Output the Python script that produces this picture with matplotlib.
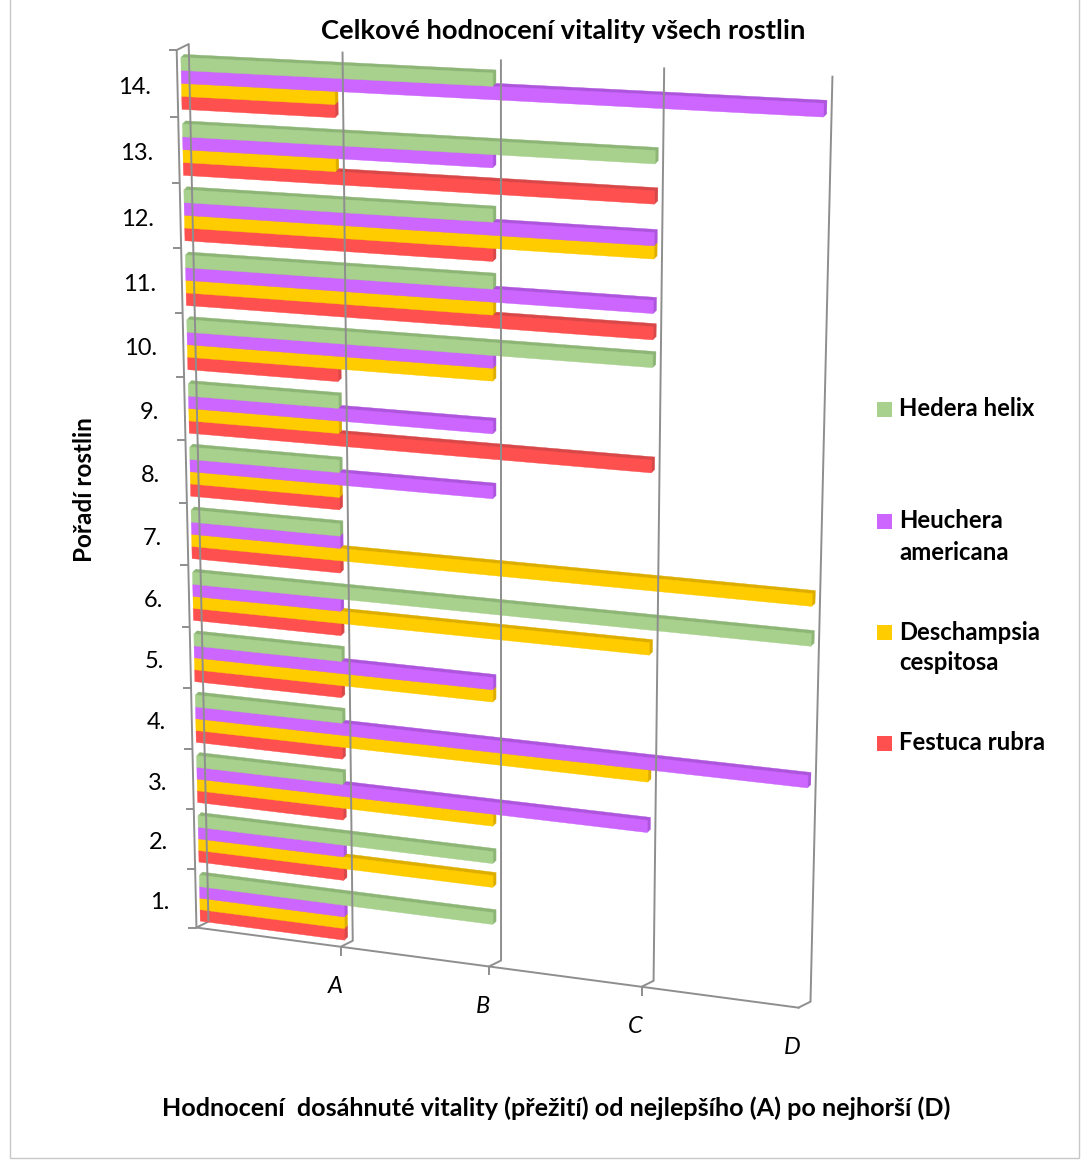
import numpy as np
import matplotlib
matplotlib.use("Agg")
import matplotlib.pyplot as plt
import matplotlib.transforms as mtransforms
from matplotlib.patches import Rectangle, ConnectionPatch

# ---------------- data ----------------
rows = [f"{i}." for i in range(1, 15)]
positions = list(range(1, 15))
series_names = ["Hedera helix", "Heuchera americana", "Deschampsia cespitosa", "Festuca rubra"]
legend_labels = ["Hedera helix", "Heuchera\namericana", "Deschampsia\ncespitosa", "Festuca rubra"]
value_labels = ["A", "B", "C", "D"]
hedera = [2, 2, 1, 1, 1, 4, 1, 1, 1, 3, 2, 2, 3, 2]
heuchera = [1, 1, 3, 4, 2, 1, 1, 2, 2, 2, 3, 3, 2, 4]
deschampsia = [1, 2, 2, 3, 2, 3, 4, 1, 1, 2, 2, 3, 1, 1]
festuca = [1, 1, 1, 1, 1, 1, 1, 1, 3, 1, 3, 2, 3, 1]
series_values = [hedera, heuchera, deschampsia, festuca]

title = "Celkové hodnocení vitality všech rostlin"
ylabel = "Pořadí rostlin"
xlabel = "Hodnocení  dosáhnuté vitality (přežití) od nejlepšího (A) po nejhorší (D)"

# ---------------- style ----------------
front_colors = ["#A9D18E", "#CC66FF", "#FFCC00", "#FF5050"]
side_colors = ["#8DB576", "#AE55DD", "#DDAE00", "#D84848"]
grid_color = "#8E8E8E"
FONT = ["Lato", "DejaVu Sans"]
plt.rcParams["font.family"] = FONT

GROUP = 0.78
BAR_H = GROUP / 4

# projection calibration (plane (value, slot) -> image pixel), perspective view
calib_src = [(0, 14.39), (0, 6.39), (0, 0.61), (4, 14.0), (4, 4.0), (3, 3.0), (2, 1.195), (1, 0.61)]
calib_dst = [(181, 57), (193, 573), (200, 922), (823, 117), (808, 788), (648, 833), (493, 925), (344, 938)]


def solve_homography(src, dst):
    A = []
    for (x, y), (X, Y) in zip(src, dst):
        X, Y = X / 1000.0, Y / 1000.0
        A.append([x, y, 1, 0, 0, 0, -X * x, -X * y, -X])
        A.append([0, 0, 0, x, y, 1, -Y * x, -Y * y, -Y])
    _, _, vt = np.linalg.svd(np.array(A, float))
    h = vt[-1].reshape(3, 3)
    h = np.diag([1000.0, 1000.0, 1.0]) @ h
    return h / h[2, 2]


class Projection(mtransforms.Transform):
    input_dims = 2
    output_dims = 2
    is_separable = False
    has_inverse = False

    def __init__(self, m):
        super().__init__()
        self.m = m

    def transform_non_affine(self, values):
        v = np.asarray(values, float).reshape(-1, 2)
        p = np.column_stack([v, np.ones(len(v))]) @ self.m.T
        return p[:, :2] / p[:, 2:3]


W, H = 1089, 1161
fig = plt.figure(figsize=(W / 100, H / 100), dpi=100)
ax = fig.add_axes([0, 0, 1, 1])
ax.set_autoscale_on(False)
ax.set_xlim(0, W)
ax.set_ylim(H, 0)
ax.axis("off")

proj = Projection(solve_homography(calib_src, calib_dst))


def plane(dx=0.0, dy=0.0):
    """plane -> display, with a pixel offset (dy positive = down in the image)."""
    return proj + ax.transData + mtransforms.Affine2D().translate(dx, -dy)


BACK = (8, -6)
FRONT = (-4, 0)
w0, w1 = 0.5, 14.5
lw = 1.4

# back wall gridlines
for u in range(0, 5):
    ax.plot([u, u], [w0, w1], color=grid_color, lw=lw, transform=plane(*BACK),
            solid_capstyle="butt")
    con = ConnectionPatch((u, w0), (u, w0), coordsA=plane(*BACK), coordsB=plane(*FRONT),
                          arrowstyle="-", shrinkA=0, shrinkB=0, color=grid_color, lw=lw)
    ax.add_artist(con)
# top bracket
ax.add_artist(ConnectionPatch((0, w1), (0, w1), coordsA=plane(*BACK), coordsB=plane(*FRONT),
                              arrowstyle="-", shrinkA=0, shrinkB=0, color=grid_color, lw=lw))

# front category axis and floor edge
ax.plot([0, 0], [w0, w1], color=grid_color, lw=lw, transform=plane(*FRONT))
ax.plot([0, 4], [w0, w0], color=grid_color, lw=lw, transform=plane(*FRONT))
for k in range(0, 15):
    ax.plot([0], [k + 0.5], marker=0, markersize=5.5, mew=lw, color=grid_color,
            transform=plane(*FRONT))
for u in range(1, 4):
    ax.plot([u], [w0], marker=3, markersize=6.5, mew=lw, color=grid_color,
            transform=plane(*FRONT))

# bars (3D look: darker extrusion then front face), bottom series drawn first
depth_steps = [3.0, 2.25, 1.5, 0.75]
for s in range(3, -1, -1):
    centers = [p + GROUP / 2 - BAR_H * (s + 0.5) for p in positions]
    for d in depth_steps:
        bars = ax.barh(centers, series_values[s], height=BAR_H, left=0,
                       color=side_colors[s], edgecolor=side_colors[s], linewidth=0.3)
        for b in bars:
            b.set_transform(plane(d, -d))
    bars = ax.barh(centers, series_values[s], height=BAR_H, left=0,
                   color=front_colors[s], edgecolor=front_colors[s], linewidth=0.3)
    for b in bars:
        b.set_transform(plane())

ax.set_xlim(0, W)
ax.set_ylim(H, 0)

# category labels
for p, lab in zip(positions, rows):
    ax.text(0, p, lab, transform=plane(-30, 4), ha="right", va="center", fontsize=17)

# value labels
for u, lab in enumerate(value_labels, start=1):
    ax.text(u, w0, lab, transform=plane(-10, 40), ha="center", va="center",
            fontsize=17, style="italic")

# titles
ax.text(563, 31, title, ha="center", va="center", fontsize=19.7, fontweight="bold")
ax.text(85, 490, ylabel, ha="center", va="center", rotation=90, fontsize=17.5, fontweight="bold")
ax.text(556, 1108, xlabel, ha="center", va="center", fontsize=18.1, fontweight="bold")

# legend
leg_y = [409, 521, 632, 743]
for s, (lab, y) in enumerate(zip(legend_labels, leg_y)):
    ax.add_patch(Rectangle((877, y - 7.5), 15, 15, color=front_colors[s], lw=0))
    for j, line in enumerate(lab.split("\n")):
        ax.text(899, y + j * 31, line, ha="left", va="center", fontsize=17.2, fontweight="bold")

# chart border
ax.add_patch(Rectangle((10, -2), 1069, 1160, fill=False, edgecolor="#C8C8C8", lw=1))

fig.savefig("out.png", dpi=100)
